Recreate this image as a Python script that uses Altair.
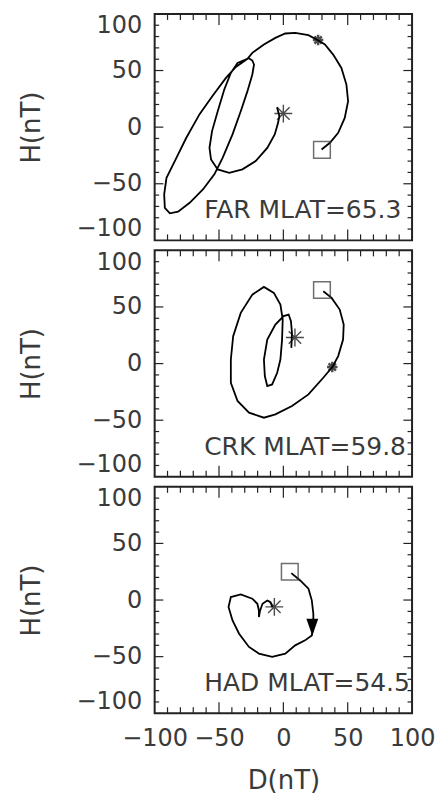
import altair as alt
import pandas as pd

W, H = 258, 227
FONT = "DejaVu Sans"
TXT = "#3a3a3a"

stations = ["FAR MLAT=65.3", "CRK MLAT=59.8", "HAD MLAT=54.5"]

far_d = [29.7, 36.2, 42.6, 47.7, 50.3, 49, 45.1, 38.7, 32.3, 27.2, 19.5, 9.2, 1.5, -6.2, -15.1,
         -24.1, -27.9, -36.9, -44.6, -54.8, -65.1, -75.4, -85.6, -90.8, -92.6, -92.1, -88.2,
         -81.8, -72.8, -62.5, -53.6, -47.2, -39.5, -33.1, -27.9, -24.1, -22.8, -24.1, -26.8,
         -35.6, -40.8, -45.9, -51, -55.4, -57.4, -56.2, -51, -42.1, -31.8, -21.5, -12.5, -6.7,
         -4.1, -3.1, -4.9]
far_h = [-19.7, -13.8, -5, 8.2, 22.9, 37.6, 52.3, 64.1, 73, 76.5, 81.2, 83.2, 82.7, 78.8, 73,
         65.6, 60.3, 53.2, 43.5, 28, 11.5, -9.4, -32.9, -44.7, -59.4, -71.2, -76.1, -74.7,
         -66.8, -55, -41.7, -27.1, -6.4, 14.1, 31.8, 46.5, 55.3, 58.8, 60.8, 56.7, 47.9, 33.3,
         14.1, -3.5, -18.3, -28.5, -37.3, -40.3, -37.3, -30, -18.3, -6.4, 3.8, 9.7, 17.6]

crk_d = [31, 37.5, 43.8, 46.9, 46.4, 42.6, 38.2, 31, 19.5, 6.7, -6.2, -15.1, -26.7, -35.6,
         -40.8, -40.8, -39, -33.1, -24.1, -15.1, -7.4, -2.3, -0.5, -1, -2.3, -4.8, -8.7, -12.5,
         -14.4, -15.1, -12.5, -6.2, 0.2, 4.1, 5.9, 6.7, 6.2]
crk_h = [63.9, 58, 47.7, 34.4, 21.2, 6.6, -2.8, -12.5, -27.2, -37.4, -44.8, -47.8, -43.3, -33,
         -16.9, 3.6, 24.2, 44.8, 60.9, 67.7, 62.4, 52.1, 38.9, 21.2, 3.6, -8.1, -18.4, -19.8,
         -11, 3.6, 21.2, 34.4, 41.9, 43.3, 37.4, 27.1, 13.9]

had_d = [6.2, 13.1, 19.5, 22.1, 23.3, 23.3, 22.1, 16.9, 9.2, 1.5, -8.7, -19, -26.7, -34.4,
         -39.5, -42.6, -40.8, -33.1, -24.1, -20.2, -19, -19, -18.1, -16.2, -12.5, -10, -8.5]
had_h = [23.8, 17.3, 10, -0.3, -12.1, -23.8, -31.2, -35.6, -40, -47.3, -50.2, -47.3, -41.4,
         -29.7, -18, -6.2, 2.6, 4.9, 1.2, -3.3, -9.2, -15, -9.4, -3.3, -0.4, -1.8, -6.2]

start_d = [30, 30, 5]
start_h = [-20, 65, 25]
end_d = [0, 9, -7]
end_h = [12, 23, -6]
mid_d = [27, 38, 22.5]
mid_h = [77, -3, -24]

minor_ticks = [-90, -80, -70, -60, -40, -30, -20, -10, 10, 20, 30, 40, 60, 70, 80, 90]
major_ticks = [-50, 0, 50]
axis_values = [-100, -50, 0, 50, 100]

ASTERISK = "M-1,0L1,0M0,-1L0,1M-0.7,-0.7L0.7,0.7M-0.7,0.7L0.7,-0.7"
ARROW = "M-0.7,-1L0.7,-1L0,1Z"

xs = alt.Scale(domain=[-100, 100], nice=False, zero=False)
ys = alt.Scale(domain=[-100, 100], nice=False, zero=False)

common_axis = dict(values=axis_values, format="d", ticks=False, tickSize=0, domain=False,
                   grid=False, labelFont=FONT, labelFontSize=24, labelColor=TXT,
                   labelOverlap=False, titleFont=FONT, titleFontSize=26,
                   titleFontWeight="normal", titleColor=TXT)


def panel(i, d, h, show_x):
    xaxis = alt.Axis(title="D(nT)", labelPadding=13, labelFlush=False, titlePadding=17,
                     **common_axis) if show_x else None
    yaxis = alt.Axis(title="H(nT)", labelPadding=13, labelFlush=True, titlePadding=32,
                     **common_axis)

    def X(f):
        return alt.X(f, type="quantitative", scale=xs, axis=xaxis)

    def Y(f):
        return alt.Y(f, type="quantitative", scale=ys, axis=yaxis)

    curve = pd.DataFrame({"d": d, "h": h, "o": list(range(len(d)))})
    line = alt.Chart(curve).mark_line(color="black", strokeWidth=1.8).encode(
        x=X("d"), y=Y("h"), order="o:Q")

    pts = pd.DataFrame({"d": [start_d[i]], "h": [start_h[i]]})
    square = alt.Chart(pts).mark_point(shape="square", filled=False, size=280,
                                       color="#333", strokeWidth=1.5).encode(x=X("d"), y=Y("h"))
    endp = pd.DataFrame({"d": [end_d[i]], "h": [end_h[i]]})
    star = alt.Chart(endp).mark_point(shape=ASTERISK, filled=False, size=320,
                                      color="black", strokeWidth=1.4).encode(x=X("d"), y=Y("h"))
    midp = pd.DataFrame({"d": [mid_d[i]], "h": [mid_h[i]]})
    if i < 2:
        mid = alt.Chart(midp).mark_point(shape=ASTERISK, filled=False, size=110,
                                         color="black", strokeWidth=2.4).encode(x=X("d"), y=Y("h"))
    else:
        mid = alt.Chart(midp).mark_point(shape=ARROW, filled=True, size=289, opacity=1,
                                         color="black").encode(x=X("d"), y=Y("h"))

    lab = pd.DataFrame({"d": [-61.5], "h": [-80.5], "t": [stations[i]]})
    text = alt.Chart(lab).mark_text(align="left", baseline="alphabetic", font=FONT,
                                    fontSize=25, color=TXT).encode(
        x=X("d"), y=Y("h"), text="t:N")

    mn = pd.DataFrame({"t": minor_ticks})
    mj = pd.DataFrame({"t": major_ticks})
    tk = dict(color="#222", strokeWidth=1.2)
    ticks = [
        alt.Chart(mn).mark_rule(**tk).encode(x=X("t"), y=alt.value(H), y2=alt.value(H - 6)),
        alt.Chart(mn).mark_rule(**tk).encode(x=X("t"), y=alt.value(0), y2=alt.value(6)),
        alt.Chart(mj).mark_rule(**tk).encode(x=X("t"), y=alt.value(H), y2=alt.value(H - 11)),
        alt.Chart(mj).mark_rule(**tk).encode(x=X("t"), y=alt.value(0), y2=alt.value(11)),
        alt.Chart(mn).mark_rule(**tk).encode(y=Y("t"), x=alt.value(0), x2=alt.value(4.5)),
        alt.Chart(mn).mark_rule(**tk).encode(y=Y("t"), x=alt.value(W), x2=alt.value(W - 4.5)),
        alt.Chart(mj).mark_rule(**tk).encode(y=Y("t"), x=alt.value(0), x2=alt.value(8.7)),
        alt.Chart(mj).mark_rule(**tk).encode(y=Y("t"), x=alt.value(W), x2=alt.value(W - 8.7)),
    ]
    return alt.layer(line, *ticks, square, star, mid, text).properties(width=W, height=H)


chart = alt.vconcat(
    panel(0, far_d, far_h, False),
    panel(1, crk_d, crk_h, False),
    panel(2, had_d, had_h, True),
    spacing=6,
).properties(
    padding={"left": 9, "top": 3, "right": 0, "bottom": 0},
    background="white",
).configure_view(stroke="#222", strokeWidth=2)

chart.save("out.html", embed_options={"renderer": "svg", "actions": False})
